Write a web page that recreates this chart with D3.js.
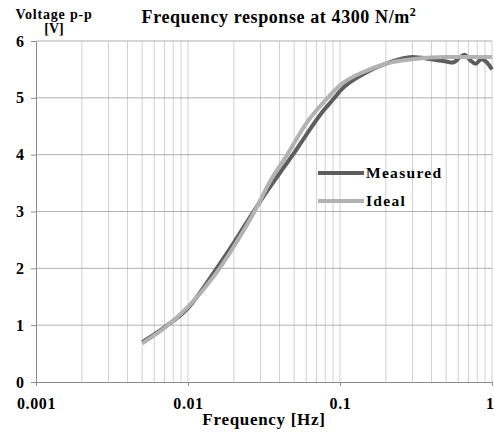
<!DOCTYPE html>
<html>
<head>
<meta charset="utf-8">
<script src="https://cdn.jsdelivr.net/npm/d3@7"></script>
<style>
  body { margin: 0; background: #fff; }
  text { font-family: "Liberation Serif", "Times New Roman", serif; fill: #000; }
</style>
</head>
<body>
<div class="chart"></div>
<script>
var margin = {top: 41, bottom: 50, left: 36, right: 2};
var fullWidth = 494, fullHeight = 432;
var width = fullWidth - margin.left - margin.right;
var height = fullHeight - margin.top - margin.bottom;

// values
var measuredFreq = [0.005, 0.007, 0.01, 0.015, 0.02, 0.027, 0.035, 0.042, 0.049, 0.06, 0.075, 0.092, 0.1, 0.15, 0.2, 0.3, 0.4, 0.5, 0.55, 0.62, 0.66, 0.72, 0.78, 0.85, 0.92, 1];
var measuredVolt = [0.7, 0.96, 1.3, 1.95, 2.45, 3.0, 3.45, 3.75, 4.0, 4.35, 4.72, 5.0, 5.12, 5.45, 5.6, 5.72, 5.68, 5.64, 5.62, 5.72, 5.76, 5.66, 5.6, 5.68, 5.63, 5.5];
var idealFreq = [0.005, 0.007, 0.01, 0.015, 0.02, 0.0274, 0.035, 0.045, 0.06, 0.083, 0.1, 0.15, 0.2, 0.3, 0.5, 1];
var idealVolt = [0.68, 0.95, 1.32, 1.88, 2.38, 3.0, 3.55, 4.0, 4.55, 5.0, 5.22, 5.48, 5.6, 5.68, 5.72, 5.72];
var xTicks = [0.001, 0.01, 0.1, 1];
var xTickLabels = ["0.001", "0.01", "0.1", "1"];
var yTicks = [0, 1, 2, 3, 4, 5, 6];

var serif = "'Liberation Serif', 'Times New Roman', serif";

var svg = d3.select(".chart")
    .append("svg")
    .attr("width", fullWidth)
    .attr("height", fullHeight)
    .attr("viewBox", `0 0 ${fullWidth} ${fullHeight}`);

var g = svg.append("g")
    .attr("transform", `translate(${margin.left},${margin.top})`);

var xScale = d3.scaleLog().domain([0.001, 1]).range([0, width]);
var yScale = d3.scaleLinear().domain([0, 6]).range([height, 0]);

// vertical grid at every log step
var minor = [];
[0.001, 0.01, 0.1].forEach(d => { for (var k = 2; k <= 10; k++) minor.push(d * k); });
g.selectAll(".vgrid")
    .data(minor)
    .enter().append("line")
    .attr("x1", d => xScale(d)).attr("x2", d => xScale(d))
    .attr("y1", 0).attr("y2", height)
    .style("stroke", "#d0d0d0").style("stroke-width", 1);

g.selectAll(".hgrid")
    .data(yTicks.filter(d => d > 0))
    .enter().append("line")
    .attr("x1", 0).attr("x2", width)
    .attr("y1", d => yScale(d)).attr("y2", d => yScale(d))
    .style("stroke", "#b0b0b0").style("stroke-width", 1);

// axes
var yAxis = d3.axisLeft(yScale).tickValues(yTicks).tickFormat(d3.format("d"))
    .tickSize(5).tickSizeOuter(0);
var yG = g.append("g").call(yAxis).attr("font-family", serif);
yG.select(".domain").style("stroke", "#8a8a8a");
yG.selectAll(".tick line").style("stroke", "#8a8a8a");
yG.selectAll(".tick text")
    .attr("x", -12)
    .style("font-family", serif)
    .style("font-size", "16px").style("font-weight", "bold");

var xAxis = d3.axisBottom(xScale).tickValues(xTicks)
    .tickFormat((d, i) => xTickLabels[i]).tickSize(4).tickSizeOuter(0);
var xG = g.append("g").attr("transform", `translate(0,${height})`).call(xAxis)
    .attr("font-family", serif);
xG.select(".domain").style("stroke", "#8a8a8a");
xG.selectAll(".tick line").style("stroke", "#8a8a8a");
xG.selectAll(".tick text")
    .attr("y", 16)
    .style("font-family", serif)
    .style("font-size", "16px").style("font-weight", "bold")
    .style("letter-spacing", "0.6px")
    .style("text-anchor", (d, i) => i === xTicks.length - 1 ? "end" : "middle")
    .attr("dx", (d, i) => i === xTicks.length - 1 ? 2 : 0);

// series
var line = d3.line()
    .x(d => xScale(d[0]))
    .y(d => yScale(d[1]))
    .curve(d3.curveMonotoneX);

var measured = measuredFreq.map((f, i) => [f, measuredVolt[i]]);
var ideal = idealFreq.map((f, i) => [f, idealVolt[i]]);

g.append("path").datum(measured)
    .attr("d", line)
    .style("fill", "none").style("stroke", "#5e5e5e").style("stroke-width", 4)
    .style("stroke-linejoin", "round");
g.append("path").datum(ideal)
    .attr("d", line)
    .style("fill", "none").style("stroke", "#b2b2b2").style("stroke-width", 4)
    .style("stroke-linejoin", "round");

// legend
var legend = [["Measured", "#5e5e5e"], ["Ideal", "#b2b2b2"]];
var lg = svg.selectAll(".legend").data(legend).enter().append("g")
    .attr("transform", (d, i) => `translate(318,${173 + i * 28})`);
lg.append("line").attr("x1", 0).attr("x2", 46).attr("y1", 0).attr("y2", 0)
    .style("stroke", d => d[1]).style("stroke-width", 4);
lg.append("text").attr("x", 48).attr("y", 5)
    .style("font-size", "15.5px").style("font-weight", "bold")
    .style("letter-spacing", "1.3px")
    .text(d => d[0]);

// titles
svg.append("text").attr("x", 279).attr("y", 23)
    .style("text-anchor", "middle").style("font-size", "18px").style("font-weight", "bold")
    .style("letter-spacing", "0.6px")
    .html("Frequency response at 4300 N/m<tspan dy='-7' font-size='12px'>2</tspan>");
svg.append("text").attr("x", 54).attr("y", 19)
    .style("text-anchor", "middle").style("font-size", "14px").style("font-weight", "bold")
    .style("letter-spacing", "0.8px")
    .text("Voltage p-p");
svg.append("text").attr("x", 54).attr("y", 33)
    .style("text-anchor", "middle").style("font-size", "14px").style("font-weight", "bold")
    .text("[V]");
svg.append("text").attr("x", 264).attr("y", 425)
    .style("text-anchor", "middle").style("font-size", "17px").style("font-weight", "bold")
    .style("letter-spacing", "0.7px")
    .text("Frequency [Hz]");
</script>
</body>
</html>
